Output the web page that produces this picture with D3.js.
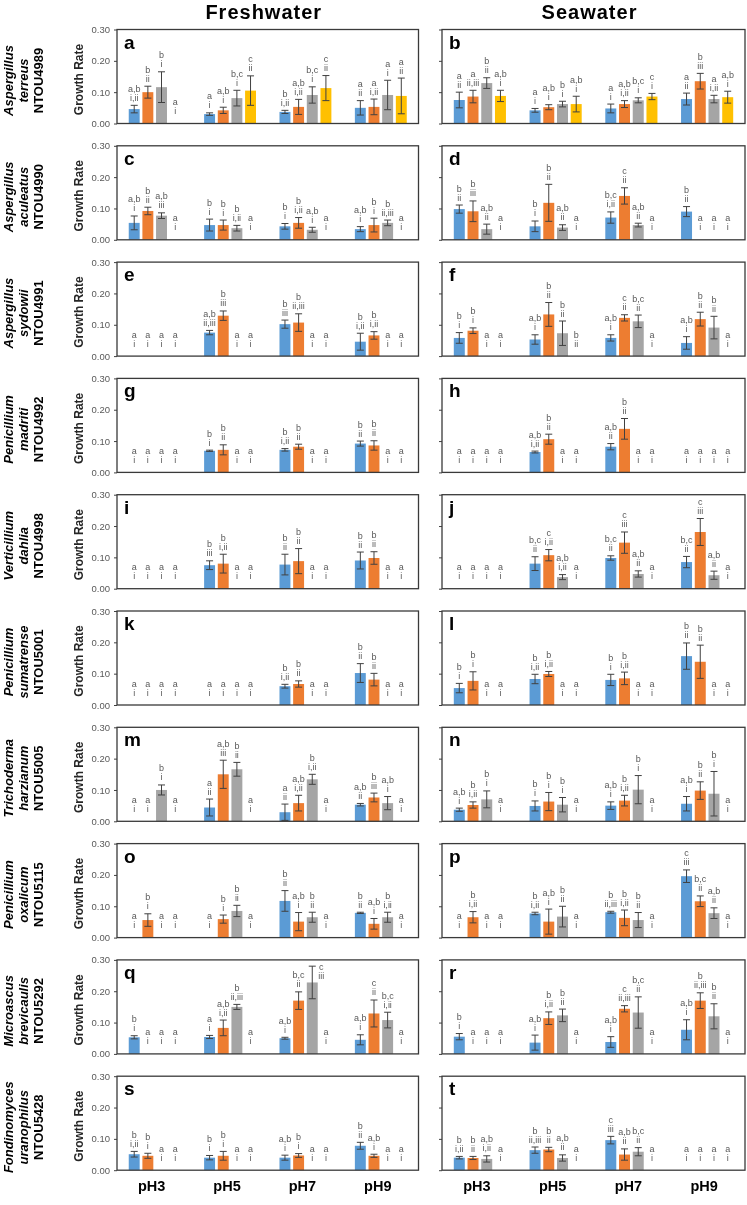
<!DOCTYPE html>
<html>
<head>
<meta charset="utf-8">
<script src="https://cdn.jsdelivr.net/npm/d3@7"></script>
<style>
	body { margin: 0; background: #fff; -webkit-font-smoothing: antialiased; }
	svg { display: block; will-change: transform; }
	text { font-family: "Liberation Sans", Arial, sans-serif; }
</style>
</head>
<body>
<div class="container"></div>
<script>

const phLabels = ['pH3', 'pH5', 'pH7', 'pH9']
const seriesKeys = ['s1', 's2', 's3', 's4']
const seriesColors = ['#5B9BD5', '#ED7D31', '#A5A5A5', '#FFC000']
const mediums = ['Freshwater', 'Seawater']
const yTicks = [0, 0.1, 0.2, 0.3]

const genus = ['Aspergillus', 'Aspergillus', 'Aspergillus', 'Penicillium', 'Verticillium',
	'Penicillium', 'Trichoderma', 'Penicillium', 'Microascus', 'Fondinomyces']
const epithet = ['terreus', 'aculeatus', 'sydowii', 'madriti', 'dahlia',
	'sumatrense', 'harzianum', 'oxalicum', 'brevicaulis', 'uranophilus']
const strain = ['NTOU4989', 'NTOU4990', 'NTOU4991', 'NTOU4992', 'NTOU4998',
	'NTOU5001', 'NTOU5005', 'NTOU5115', 'NTOU5292', 'NTOU5428']

const freshPanels = ['a', 'c', 'e', 'g', 'i', 'k', 'm', 'o', 'q', 's']
const seaPanels = ['b', 'd', 'f', 'h', 'j', 'l', 'n', 'p', 'r', 't']

// each row: pH3 [s1,s2,s3,s4], pH5 [...], pH7 [...], pH9 [...]
const freshMean = [
	[0.046, 0.100, 0.116, 0, 0.030, 0.042, 0.081, 0.105, 0.037, 0.053, 0.091, 0.113, 0.050, 0.053, 0.091, 0.088],
	[0.054, 0.092, 0.077, 0, 0.047, 0.047, 0.037, 0, 0.043, 0.054, 0.032, 0, 0.034, 0.047, 0.054, 0],
	[0, 0, 0, 0, 0.075, 0.129, 0, 0, 0.102, 0.107, 0, 0, 0.046, 0.066, 0, 0],
	[0, 0, 0, 0, 0.069, 0.072, 0, 0, 0.072, 0.082, 0, 0, 0.092, 0.086, 0, 0],
	[0, 0, 0, 0, 0.075, 0.080, 0, 0, 0.077, 0.088, 0, 0, 0.090, 0.098, 0, 0],
	[0, 0, 0, 0, 0, 0, 0, 0, 0.060, 0.067, 0, 0, 0.102, 0.081, 0, 0],
	[0, 0, 0.100, 0, 0.044, 0.150, 0.166, 0, 0.029, 0.058, 0.134, 0, 0.053, 0.076, 0.058, 0],
	[0, 0.056, 0, 0, 0, 0.059, 0.085, 0, 0.117, 0.051, 0.065, 0, 0.079, 0.044, 0.065, 0],
	[0.053, 0, 0, 0, 0.054, 0.083, 0.150, 0, 0.050, 0.170, 0.228, 0, 0.045, 0.129, 0.108, 0],
	[0.051, 0.046, 0, 0, 0.040, 0.046, 0, 0, 0.040, 0.047, 0, 0, 0.078, 0.046, 0, 0]
]
const freshErr = [
	[0.012, 0.019, 0.049, 0, 0.004, 0.010, 0.025, 0.047, 0.005, 0.024, 0.026, 0.040, 0.023, 0.025, 0.047, 0.057],
	[0.022, 0.012, 0.009, 0, 0.019, 0.016, 0.009, 0, 0.009, 0.017, 0.008, 0, 0.008, 0.022, 0.009, 0],
	[0, 0, 0, 0, 0.007, 0.015, 0, 0, 0.013, 0.028, 0, 0, 0.027, 0.012, 0, 0],
	[0, 0, 0, 0, 0.002, 0.016, 0, 0, 0.004, 0.008, 0, 0, 0.008, 0.015, 0, 0],
	[0, 0, 0, 0, 0.014, 0.030, 0, 0, 0.033, 0.040, 0, 0, 0.027, 0.020, 0, 0],
	[0, 0, 0, 0, 0, 0, 0, 0, 0.006, 0.010, 0, 0, 0.030, 0.020, 0, 0],
	[0, 0, 0.016, 0, 0.027, 0.045, 0.022, 0, 0.026, 0.025, 0.016, 0, 0.004, 0.014, 0.021, 0],
	[0, 0.020, 0, 0, 0, 0.013, 0.018, 0, 0.033, 0.029, 0.016, 0, 0.002, 0.017, 0.016, 0],
	[0.005, 0, 0, 0, 0.005, 0.025, 0.008, 0, 0.003, 0.028, 0.052, 0, 0.016, 0.043, 0.025, 0],
	[0.009, 0.008, 0, 0, 0.007, 0.014, 0, 0, 0.008, 0.006, 0, 0, 0.011, 0.005, 0, 0]
]
const freshLetter = [
	['a,b', 'b', 'b', 'a', 'a', 'a,b', 'b,c', 'c', 'b', 'a,b', 'b,c', 'c', 'a', 'a', 'a', 'a'],
	['a,b', 'b', 'a,b', 'a', 'b', 'b', 'b', 'a', 'b', 'b', 'a,b', 'a', 'a,b', 'b', 'b', 'a'],
	['a', 'a', 'a', 'a', 'a,b', 'b', 'a', 'a', 'b', 'b', 'a', 'a', 'b', 'b', 'a', 'a'],
	['a', 'a', 'a', 'a', 'b', 'b', 'a', 'a', 'b', 'b', 'a', 'a', 'b', 'b', 'a', 'a'],
	['a', 'a', 'a', 'a', 'b', 'b', 'a', 'a', 'b', 'b', 'a', 'a', 'b', 'b', 'a', 'a'],
	['a', 'a', 'a', 'a', 'a', 'a', 'a', 'a', 'b', 'b', 'a', 'a', 'b', 'b', 'a', 'a'],
	['a', 'a', 'b', 'a', 'a', 'a,b', 'b', 'a', 'a', 'a,b', 'b', 'a', 'a,b', 'b', 'a,b', 'a'],
	['a', 'b', 'a', 'a', 'a', 'b', 'b', 'a', 'b', 'a,b', 'b', 'a', 'b', 'a,b', 'b', 'a'],
	['b', 'a', 'a', 'a', 'a', 'a,b', 'b', 'a', 'a,b', 'b,c', 'c', 'a', 'a,b', 'c', 'b,c', 'a'],
	['b', 'b', 'a', 'a', 'b', 'b', 'a', 'a', 'a,b', 'b', 'a', 'a', 'b', 'a,b', 'a', 'a']
]
const freshNumeral = [
	['i,ii', 'ii', 'i', 'i', 'i', 'i', 'i', 'ii', 'i,ii', 'i,ii', 'i', 'ii', 'ii', 'i,ii', 'i', 'ii'],
	['i', 'ii', 'iii', 'i', 'i', 'i', 'i,ii', 'i', 'i', 'i,ii', 'i', 'i', 'i', 'i', 'ii,iii', 'i'],
	['i', 'i', 'i', 'i', 'ii,iii', 'iii', 'i', 'i', 'iii', 'ii,iii', 'i', 'i', 'i,ii', 'i,ii', 'i', 'i'],
	['i', 'i', 'i', 'i', 'i', 'ii', 'i', 'i', 'i,ii', 'ii', 'i', 'i', 'ii', 'ii', 'i', 'i'],
	['i', 'i', 'i', 'i', 'iii', 'i,ii', 'i', 'i', 'ii', 'ii', 'i', 'i', 'ii', 'ii', 'i', 'i'],
	['i', 'i', 'i', 'i', 'i', 'i', 'i', 'i', 'i,ii', 'ii', 'i', 'i', 'ii', 'ii', 'i', 'i'],
	['i', 'i', 'i', 'i', 'ii', 'iii', 'ii', 'i', 'ii', 'i,ii', 'i,ii', 'i', 'ii', 'iii', 'i', 'i'],
	['i', 'i', 'i', 'i', 'i', 'i', 'ii', 'i', 'ii', 'i', 'ii', 'i', 'ii', 'i', 'i,ii', 'i'],
	['i', 'i', 'i', 'i', 'i', 'i,ii', 'ii,iii', 'i', 'i', 'ii', 'iii', 'i', 'i', 'ii', 'i,ii', 'i'],
	['i,ii', 'i', 'i', 'i', 'i', 'i', 'i', 'i', 'i', 'i', 'i', 'i', 'ii', 'i', 'i', 'i']
]

const seaMean = [
	[0.075, 0.086, 0.129, 0.088, 0.042, 0.052, 0.062, 0.062, 0.048, 0.062, 0.074, 0.086, 0.078, 0.135, 0.078, 0.084],
	[0.098, 0.091, 0.034, 0, 0.043, 0.118, 0.039, 0, 0.071, 0.140, 0.047, 0, 0.090, 0, 0, 0],
	[0.058, 0.081, 0, 0, 0.053, 0.133, 0.073, 0, 0.058, 0.122, 0.111, 0, 0.042, 0.118, 0.091, 0],
	[0, 0, 0, 0, 0.065, 0.106, 0, 0, 0.082, 0.139, 0, 0, 0, 0, 0, 0],
	[0, 0, 0, 0, 0.080, 0.107, 0.037, 0, 0.098, 0.147, 0.047, 0, 0.085, 0.181, 0.043, 0],
	[0.054, 0.077, 0, 0, 0.083, 0.099, 0, 0, 0.080, 0.085, 0, 0, 0.156, 0.138, 0, 0],
	[0.037, 0.052, 0.070, 0, 0.049, 0.063, 0.053, 0, 0.050, 0.066, 0.101, 0, 0.056, 0.098, 0.088, 0],
	[0, 0.065, 0, 0, 0.077, 0.051, 0.067, 0, 0.081, 0.063, 0.056, 0, 0.196, 0.116, 0.078, 0],
	[0.055, 0, 0, 0, 0.036, 0.114, 0.123, 0, 0.038, 0.144, 0.132, 0, 0.077, 0.170, 0.120, 0],
	[0.040, 0.039, 0.036, 0, 0.064, 0.066, 0.039, 0, 0.096, 0.050, 0.059, 0, 0, 0, 0, 0]
]
const seaErr = [
	[0.025, 0.020, 0.017, 0.018, 0.006, 0.008, 0.009, 0.025, 0.014, 0.011, 0.008, 0.010, 0.019, 0.025, 0.012, 0.019],
	[0.013, 0.033, 0.016, 0, 0.017, 0.059, 0.009, 0, 0.018, 0.026, 0.006, 0, 0.016, 0, 0, 0],
	[0.017, 0.009, 0, 0, 0.015, 0.038, 0.039, 0, 0.010, 0.010, 0.020, 0, 0.020, 0.022, 0.036, 0],
	[0, 0, 0, 0, 0.003, 0.016, 0, 0, 0.010, 0.033, 0, 0, 0, 0, 0, 0],
	[0, 0, 0, 0, 0.022, 0.018, 0.008, 0, 0.007, 0.034, 0.010, 0, 0.018, 0.043, 0.013, 0],
	[0.015, 0.029, 0, 0, 0.015, 0.008, 0, 0, 0.018, 0.020, 0, 0, 0.042, 0.053, 0, 0],
	[0.005, 0.010, 0.027, 0, 0.016, 0.029, 0.023, 0, 0.012, 0.017, 0.045, 0, 0.023, 0.028, 0.071, 0],
	[0, 0.018, 0, 0, 0.004, 0.040, 0.033, 0, 0.003, 0.025, 0.024, 0, 0.020, 0.017, 0.017, 0],
	[0.010, 0, 0, 0, 0.024, 0.020, 0.020, 0, 0.017, 0.010, 0.050, 0, 0.032, 0.025, 0.040, 0],
	[0.004, 0.005, 0.010, 0, 0.010, 0.007, 0.010, 0, 0.012, 0.018, 0.013, 0, 0, 0, 0, 0]
]
const seaLetter = [
	['a', 'a', 'b', 'a,b', 'a', 'a,b', 'b', 'a,b', 'a', 'a,b', 'b,c', 'c', 'a', 'b', 'a', 'a,b'],
	['b', 'b', 'a,b', 'a', 'b', 'b', 'a,b', 'a', 'b,c', 'c', 'a,b', 'a', 'b', 'a', 'a', 'a'],
	['b', 'b', 'a', 'a', 'a,b', 'b', 'b', 'b', 'a,b', 'c', 'b,c', 'a', 'a,b', 'b', 'b', 'a'],
	['a', 'a', 'a', 'a', 'a,b', 'b', 'a', 'a', 'a,b', 'b', 'a', 'a', 'a', 'a', 'a', 'a'],
	['a', 'a', 'a', 'a', 'b,c', 'c', 'a,b', 'a', 'b,c', 'c', 'a,b', 'a', 'b,c', 'c', 'a,b', 'a'],
	['b', 'b', 'a', 'a', 'b', 'b', 'a', 'a', 'b', 'b', 'a', 'a', 'b', 'b', 'a', 'a'],
	['a,b', 'b', 'b', 'a', 'b', 'b', 'b', 'a', 'a,b', 'b', 'b', 'a', 'a,b', 'b', 'b', 'a'],
	['a', 'b', 'a', 'a', 'b', 'a,b', 'b', 'a', 'b', 'b', 'b', 'a', 'c', 'b,c', 'a,b', 'a'],
	['b', 'a', 'a', 'a', 'a,b', 'b', 'b', 'a', 'a,b', 'c', 'b,c', 'a', 'a,b', 'b', 'b', 'a'],
	['b', 'b', 'a,b', 'a', 'b', 'b', 'a,b', 'a', 'c', 'a,b', 'b,c', 'a', 'a', 'a', 'a', 'a']
]
const seaNumeral = [
	['ii', 'ii,iii', 'ii', 'i', 'i', 'i', 'i', 'i', 'i', 'i,ii', 'i', 'i', 'ii', 'iii', 'i,ii', 'i'],
	['ii', 'iii', 'ii', 'i', 'i', 'ii', 'ii', 'i', 'i,ii', 'ii', 'ii', 'i', 'ii', 'i', 'i', 'i'],
	['i', 'i', 'i', 'i', 'i', 'ii', 'ii', 'ii', 'i', 'ii', 'ii', 'i', 'i', 'ii', 'ii', 'i'],
	['i', 'i', 'i', 'i', 'i,ii', 'ii', 'i', 'i', 'ii', 'ii', 'i', 'i', 'i', 'i', 'i', 'i'],
	['i', 'i', 'i', 'i', 'ii', 'i,ii', 'i,ii', 'i', 'ii', 'iii', 'ii', 'i', 'ii', 'iii', 'ii', 'i'],
	['i', 'i', 'i', 'i', 'i,ii', 'i,ii', 'i', 'i', 'i', 'i,ii', 'i', 'i', 'ii', 'ii', 'i', 'i'],
	['i', 'i,ii', 'i', 'i', 'i', 'i', 'i', 'i', 'i', 'i,ii', 'i', 'i', 'i', 'ii', 'i', 'i'],
	['i', 'i,ii', 'i', 'i', 'i,ii', 'i', 'ii', 'i', 'ii,iii', 'i,ii', 'ii', 'i', 'iii', 'ii', 'ii', 'i'],
	['i', 'i', 'i', 'i', 'i', 'i,ii', 'ii', 'i', 'i', 'ii,iii', 'ii', 'i', 'i', 'ii,iii', 'ii', 'i'],
	['i,ii', 'ii', 'i,ii', 'i', 'ii,iii', 'ii', 'ii', 'i', 'iii', 'ii', 'ii', 'i', 'i', 'i', 'i', 'i']
]

const tables = [
	{ mean: freshMean, err: freshErr, letter: freshLetter, numeral: freshNumeral, panels: freshPanels },
	{ mean: seaMean, err: seaErr, letter: seaLetter, numeral: seaNumeral, panels: seaPanels }
]

// layout
const W = 747, H = 1205
const colX = [[117, 418.5], [442, 745]]
const rowTop0 = 29.5
const rowStep = 116.3
const panelH = 94
const labelGray = '#595959'

let svg = d3.select('.container')
	.append('svg')
	.attr('width', W)
	.attr('height', H)

// a whole-page group with opacity keeps text antialiasing greyscale
let root = svg.append('g').attr('opacity', 0.999)

let y = d3.scaleLinear().domain([0, 0.3]).range([panelH, 0])

// column headers
mediums.forEach((m, c) => {
	root.append('text')
		.attr('x', (colX[c][0] + colX[c][1]) / 2 - 4)
		.attr('y', 19)
		.attr('text-anchor', 'middle')
		.attr('font-size', 20)
		.attr('font-weight', 'bold')
		.attr('letter-spacing', 1)
		.text(m)
})

// species labels + y title
for (let r = 0; r < genus.length; r++) {
	let cy = rowTop0 + r * rowStep + panelH / 2 + 4
	let lines = [[genus[r], 'italic', 13], [epithet[r], 'italic', 28], [strain[r], 'normal', 43]]
	lines.forEach(l => {
		root.append('text')
			.attr('transform', `translate(${l[2]},${cy}) rotate(-90)`)
			.attr('text-anchor', 'middle')
			.attr('font-size', 13)
			.attr('font-weight', 'bold')
			.attr('font-style', l[1])
			.text(l[0])
	})
	root.append('text')
		.attr('transform', `translate(83,${cy - 1}) rotate(-90)`)
		.attr('text-anchor', 'middle')
		.attr('font-size', 12)
		.attr('font-weight', 'bold')
		.attr('fill', '#262626')
		.text('Growth Rate')
}

function drawPanel(c, r) {
	let t = tables[c]
	let pw = colX[c][1] - colX[c][0]
	let g = root.append('g')
		.attr('transform', `translate(${colX[c][0]},${rowTop0 + r * rowStep})`)

	let x0 = d3.scaleBand().domain(phLabels).range([0, pw])
	let x1 = d3.scaleBand().domain(seriesKeys).range([0, x0.bandwidth()])
		.paddingInner(0.2).paddingOuter(0.86)

	let axis = d3.axisLeft(y).tickValues(yTicks).tickSizeInner(3).tickSizeOuter(0)
		.tickFormat(c === 0 ? d3.format('.2f') : '')
	let ax = g.append('g').call(axis)
	ax.select('.domain').remove()
	ax.selectAll('line').attr('stroke', '#404040')
	ax.selectAll('text').attr('fill', labelGray).attr('font-size', 9.5)
		.attr('font-family', '"Liberation Sans", Arial, sans-serif').attr('x', -7)

	let rows = t.mean[r].map((m, i) => ({
		ph: phLabels[Math.floor(i / 4)],
		s: seriesKeys[i % 4],
		color: seriesColors[i % 4],
		m: m,
		e: t.err[r][i],
		l: t.letter[r][i],
		n: t.numeral[r][i]
	}))

	let cx = d => x0(d.ph) + x1(d.s) + x1.bandwidth() / 2
	let nz = rows.filter(d => d.m > 0)

	g.selectAll('rect.bar').data(nz).enter().append('rect')
		.attr('class', 'bar')
		.attr('x', d => x0(d.ph) + x1(d.s))
		.attr('y', d => y(d.m))
		.attr('width', x1.bandwidth())
		.attr('height', d => panelH - y(d.m))
		.attr('fill', d => d.color)

	let eg = g.selectAll('g.err').data(nz.filter(d => d.e > 0)).enter().append('g')
		.attr('class', 'err')
		.attr('stroke', '#404040')
		.attr('stroke-width', 1)
	eg.append('line')
		.attr('x1', cx).attr('x2', cx)
		.attr('y1', d => y(Math.max(0, d.m - d.e)))
		.attr('y2', d => y(d.m + d.e))
	eg.append('line')
		.attr('x1', d => cx(d) - 3.5).attr('x2', d => cx(d) + 3.5)
		.attr('y1', d => y(d.m + d.e)).attr('y2', d => y(d.m + d.e))
	eg.append('line')
		.attr('x1', d => cx(d) - 3.5).attr('x2', d => cx(d) + 3.5)
		.attr('y1', d => y(Math.max(0, d.m - d.e))).attr('y2', d => y(Math.max(0, d.m - d.e)))

	// significance labels
	rows.forEach(d => {
		let top = d.m > 0 ? y(d.m + d.e) : panelH - 5
		let lx = cx(d)
		let ly = top - 13.5
		let ny = top - 4.5
		if (ly < 10) {
			lx += 9
			ly = 10
			ny = 19.5
		}
		g.append('text').attr('x', lx).attr('y', ly)
			.attr('text-anchor', 'middle').attr('font-size', 9).attr('fill', labelGray)
			.text(d.l)
		g.append('text').attr('x', lx).attr('y', ny)
			.attr('text-anchor', 'middle').attr('font-size', 9).attr('fill', labelGray)
			.text(d.n)
	})

	g.append('rect')
		.attr('width', pw)
		.attr('height', panelH)
		.attr('fill', 'none')
		.attr('stroke', '#3a3a3a')
		.attr('stroke-width', 1.3)

	g.append('text')
		.attr('x', 7)
		.attr('y', 19)
		.attr('font-size', 19)
		.attr('font-weight', 'bold')
		.text(t.panels[r])

	if (r === genus.length - 1) {
		phLabels.forEach(p => {
			root.append('text')
				.attr('x', colX[c][0] + x0(p) + x0.bandwidth() / 2 - 3)
				.attr('y', rowTop0 + r * rowStep + panelH + 21)
				.attr('text-anchor', 'middle')
				.attr('font-size', 14.5)
				.attr('font-weight', 'bold')
				.text(p)
		})
	}
}

for (let c = 0; c < 2; c++) {
	for (let r = 0; r < genus.length; r++) {
		drawPanel(c, r)
	}
}

</script>
</body>
</html>
